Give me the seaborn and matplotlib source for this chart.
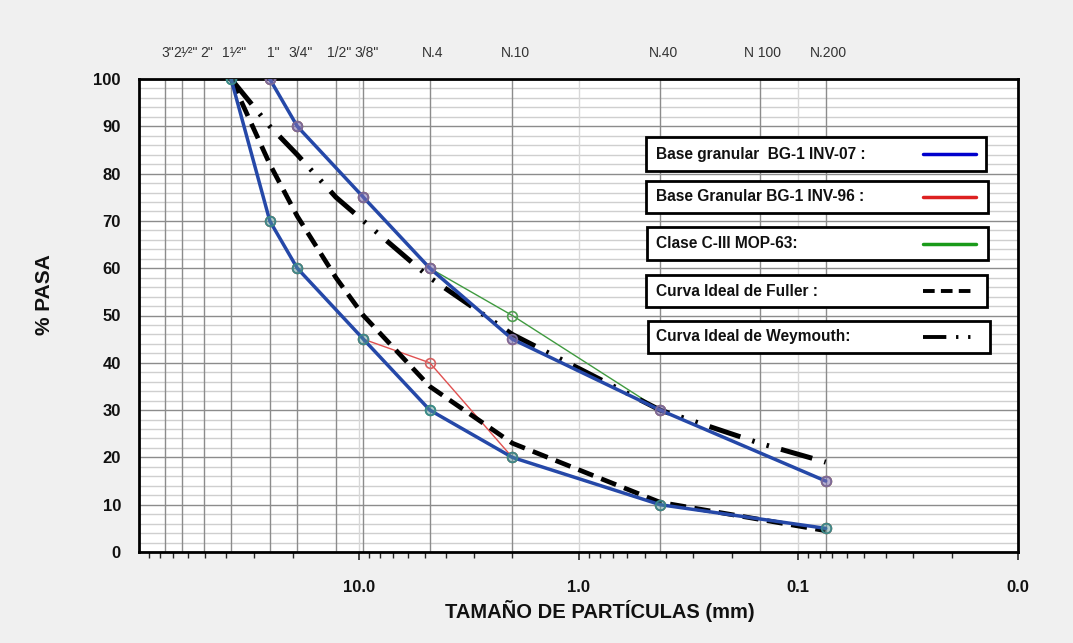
import numpy as np
import pandas as pd
import seaborn as sns
import matplotlib
matplotlib.use("Agg")
import matplotlib.pyplot as plt
from matplotlib.patches import Rectangle
from matplotlib.lines import Line2D
import matplotlib.transforms as mtransforms

# ---------------- data ----------------
sieve_labels = ['3"', '2\u00b9\u2044\u00b2"', '2"', '1\u00b9\u2044\u00b2"', '1"', '3/4"', '1/2"', '3/8"',
                'N.4', 'N.10', 'N.40', 'N 100', 'N.200']
sieve_mm = [76.2, 63.5, 50.8, 38.1, 25.4, 19.05, 12.7, 9.525, 4.75, 2.0, 0.425, 0.15, 0.075]

x_tick_vals = [10, 1, 0.1, 0.01]
x_tick_labels = ["10.0", "1.0", "0.1", "0.0"]

# Base granular BG-1 INV-07 (upper / lower limits)
inv07_up_x = [25.4, 19.05, 9.525, 4.75, 2.0, 0.425, 0.075]
inv07_up_y = [100, 90, 75, 60, 45, 30, 15]
inv07_lo_x = [38.1, 25.4, 19.05, 9.525, 4.75, 2.0, 0.425, 0.075]
inv07_lo_y = [100, 70, 60, 45, 30, 20, 10, 5]

# Base Granular BG-1 INV-96
inv96_up_x = [25.4, 19.05, 9.525, 4.75, 2.0, 0.425, 0.075]
inv96_up_y = [100, 90, 75, 60, 45, 30, 15]
inv96_lo_x = [25.4, 19.05, 9.525, 4.75, 2.0, 0.425, 0.075]
inv96_lo_y = [70, 60, 45, 40, 20, 10, 5]

# Clase C-III MOP-63
mop_up_x = [25.4, 19.05, 9.525, 4.75, 2.0, 0.425, 0.075]
mop_up_y = [100, 90, 75, 60, 50, 30, 15]
mop_lo_x = [38.1, 25.4, 19.05, 9.525, 4.75, 2.0, 0.425, 0.075]
mop_lo_y = [100, 70, 60, 45, 30, 20, 10, 5]

# Curva ideal de Fuller
fuller_x = [38.1, 25.4, 19.05, 12.7, 9.525, 4.75, 2.0, 0.425, 0.075]
fuller_y = [100, 82, 71, 58, 50, 35, 23, 10.5, 4.5]

# Curva ideal de Weymouth
wey_x = [38.1, 25.4, 19.05, 12.7, 9.525, 4.75, 2.0, 0.425, 0.15, 0.075]
wey_y = [100, 90, 84, 75, 70, 58, 46, 30, 23, 19]

legend_labels = ["Base granular  BG-1 INV-07 :", "Base Granular BG-1 INV-96 :",
                 "Clase C-III MOP-63:", "Curva Ideal de Fuller :", "Curva Ideal de Weymouth:"]

# ---------------- figure ----------------
sns.set_theme(style="white")
plt.rcParams['font.family'] = ['Liberation Sans', 'DejaVu Sans']

W, H = 1073, 643
fig = plt.figure(figsize=(W / 100, H / 100), dpi=100, facecolor='#f0f0f0')
L, R, T, B = 139, 1018, 79, 552
ax = fig.add_axes([L / W, 1 - B / H, (R - L) / W, (B - T) / H])
ax.set_facecolor('white')

ax.set_xscale('log')
ax.set_xlim(100, 0.01)
ax.set_ylim(0, 100)

# grid lines
for yv in np.arange(0, 101, 2):
    if yv % 10 == 0:
        ax.axhline(yv, color='#8c8c8c', lw=1.0, zorder=1)
    else:
        ax.axhline(yv, color='#cfcfcf', lw=1.0, zorder=0.5)
for xv in [10, 1, 0.1]:
    ax.axvline(xv, color='#d8d8d8', lw=1.0, zorder=0.5)
for xv in sieve_mm:
    ax.axvline(xv, color='#8c8c8c', lw=1.0, zorder=1)

def draw(xs, ys, color, lw, ls='-', z=3, mfc=None, mec=None):
    df = pd.DataFrame({"x": xs, "y": ys})
    kw = dict(data=df, x="x", y="y", ax=ax, color=color, linewidth=lw,
              sort=False, estimator=None, zorder=z, linestyle=ls)
    if mfc is not None:
        kw.update(marker='o', markersize=7, markerfacecolor=mfc,
                  markeredgecolor=mec, markeredgewidth=1.2)
    sns.lineplot(**kw)

# thin series under blue
draw(mop_up_x, mop_up_y, '#3f9a3f', 1.0, z=3, mfc='none', mec='#4f9f4f')
draw(mop_lo_x, mop_lo_y, '#3f9a3f', 1.0, z=3, mfc='none', mec='#3f8f5f')
draw(inv96_up_x, inv96_up_y, '#e05050', 1.0, z=3, mfc='none', mec='#d86060')
draw(inv96_lo_x, inv96_lo_y, '#e05050', 1.0, z=3, mfc='none', mec='#d86060')

# ideal curves
draw(fuller_x, fuller_y, 'black', 3.4, ls=(0, (3.4, 1.8)), z=4)
draw(wey_x, wey_y, 'black', 3.6, ls=(0, (6.5, 2.5, 0.5, 2.5, 0.5, 2.5)), z=4)

# blue limits
draw(inv07_up_x, inv07_up_y, '#2548a8', 2.5, z=5, mfc=(0.5, 0.45, 0.7, 0.55), mec='#7a6a9a')
draw(inv07_lo_x, inv07_lo_y, '#2548a8', 2.5, z=5, mfc=(0.35, 0.6, 0.6, 0.45), mec='#3a8a8a')

# axes styling
for s in ax.spines.values():
    s.set_color('black')
    s.set_linewidth(2)
ax.set_xticks(x_tick_vals)
ax.set_xticklabels(x_tick_labels, fontsize=12, fontweight='bold', color='#111111')
ax.xaxis.set_minor_locator(matplotlib.ticker.LogLocator(base=10, subs=np.arange(2, 10)))
ax.xaxis.set_minor_formatter(matplotlib.ticker.NullFormatter())
ax.tick_params(axis='x', which='major', direction='out', length=6, width=1.2, pad=14, bottom=True)
ax.tick_params(axis='x', which='minor', direction='out', length=4, width=1.0, bottom=True)
ax.set_yticks(np.arange(0, 101, 10))
ax.set_yticklabels([str(v) for v in range(0, 101, 10)], fontsize=12, fontweight='bold', color='#111111')
ax.tick_params(axis='y', length=0, pad=13)
ax.set_xlabel("")
ax.set_ylabel("")
fig.text(600 / W, 1 - 611 / H, "TAMAÑO DE PARTÍCULAS (mm)", ha='center', va='center',
         fontsize=14.5, fontweight='bold', color='#111111')
fig.text(45 / W, 1 - 295 / H, "% PASA", rotation=90, ha='center', va='center',
         fontsize=15, fontweight='bold', color='#111111')

# sieve labels on top
trans = mtransforms.blended_transform_factory(ax.transData, ax.transAxes)
offset = mtransforms.ScaledTranslation(3 / 100, 0, fig.dpi_scale_trans)
for lab, xv in zip(sieve_labels, sieve_mm):
    ax.text(xv, 1.055, lab, transform=trans + offset, ha='center', va='center',
            fontsize=10, color='#333333')

# custom legend boxes (figure pixel coords)
def fx(x):
    return x / W

def fy(y):
    return 1 - y / H

boxes = [(646, 137, 986, 171), (646, 181, 988, 213), (647, 227, 988, 260),
         (646, 275, 987, 307), (648, 321, 990, 353)]
styles = [dict(color='#0000cc', lw=2.5, ls='-'),
          dict(color='#dd2020', lw=2.5, ls='-'),
          dict(color='#1a9a1a', lw=2.5, ls='-'),
          dict(color='black', lw=2.8, ls=(0, (3, 1.6))),
          dict(color='black', lw=2.8, ls=(0, (6, 2.5, 0.6, 2.5, 0.6, 2.5)))]
for (x0, y0, x1, y1), lab, st in zip(boxes, legend_labels, styles):
    fig.add_artist(Rectangle((fx(x0), fy(y1)), fx(x1) - fx(x0), fy(y0) - fy(y1),
                             transform=fig.transFigure, facecolor='white',
                             edgecolor='black', lw=2, zorder=10))
    ym = (y0 + y1) / 2
    fig.text(fx(656), fy(ym), lab, ha='left', va='center', fontsize=11.2,
             fontweight='bold', color='#111111', zorder=11)
    fig.add_artist(Line2D([fx(923), fx(976)], [fy(ym), fy(ym)], transform=fig.transFigure,
                          color=st['color'], lw=st['lw'], linestyle=st['ls'], zorder=11))

fig.savefig("out.png", dpi=100, facecolor=fig.get_facecolor())
